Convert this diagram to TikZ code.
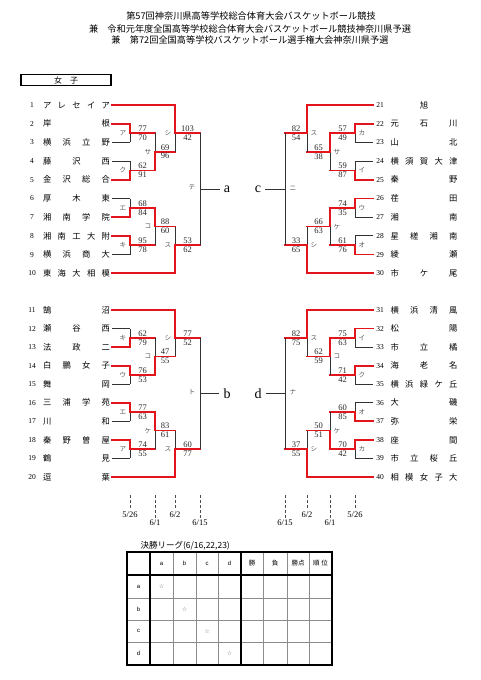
\documentclass[tikz,border=0pt]{standalone}
\usepackage{fontspec}
\setmainfont{Liberation Serif}
\setsansfont{Liberation Sans}
\newfontfamily\jp{Noto Sans CJK JP}
\newfontfamily\sym{DejaVu Sans}

\definecolor{wred}{RGB}{228,20,28}

% spread the characters of a school name over the whole field
\def\spread#1{\expandafter\spreadA#1\relax}
\def\spreadA#1{#1\spreadB}
\def\spreadB#1{\ifx\relax#1\else\hfill#1\expandafter\spreadB\fi}

\begin{document}
\begin{tikzpicture}[x=1pt, y=-1pt,
	win/.style={draw=wred, line width=1.7pt, line cap=rect},
	lose/.style={draw=black!80, line width=0.9pt},
	num/.style={font=\fontsize{7.5}{8}\selectfont, inner sep=0pt},
	team/.style={font=\jp\fontsize{8.3}{8}\selectfont, inner sep=0pt},
	score/.style={font=\fontsize{8.5}{8}\selectfont, inner sep=1.4pt, text=black!85},
	mlab/.style={font=\jp\fontsize{6.6}{6}\selectfont, text=black!65, inner sep=0pt},
	blk/.style={font=\fontsize{14}{14}\selectfont, inner xsep=4pt, inner ysep=0pt},
	datel/.style={draw=black!70, line width=0.6pt, densely dashed},
	date/.style={font=\fontsize{8.5}{9}\selectfont, inner sep=1.5pt},
	tthin/.style={draw=black!45, line width=0.5pt},
	tthick/.style={draw=black, line width=1.1pt},
	thd/.style={font=\sffamily\fontsize{6}{6}\selectfont},
	tjp/.style={font=\jp\fontsize{6.5}{7}\selectfont},
	star/.style={font=\sym\fontsize{6}{6}\selectfont, text=black!55}]

	\fill[white] (0,0) rectangle (481,680);
	\useasboundingbox (0,0) rectangle (481,680);

	% Title lines

	\begin{scope}[every node/.style={font=\jp\fontsize{9.2}{10}\selectfont}]
		\node (h1) at (251,16) {第57回神奈川県高等学校総合体育大会バスケットボール競技};
		\node (h2) at (250,29) {兼　令和元年度全国高等学校総合体育大会バスケットボール競技神奈川県予選};
		\node (h3) at (250,40) {兼　第72回全国高等学校バスケットボール選手権大会神奈川県予選};
	\end{scope}

	\node [draw, line width=1.3pt, minimum width=90pt, minimum height=10.5pt, inner sep=0pt,
		font=\jp\fontsize{8}{8}\selectfont] (girls) at (66,80) {女　子};

	% Schools, left side

	\foreach \i/\nm/\xe/\s in {1/アレセイア/175/win, 2/岸根/130/win, 3/横浜立野/130/lose,
		4/藤沢西/130/lose, 5/金沢総合/130/win, 6/厚木東/130/lose, 7/湘南学院/130/win,
		8/湘南工大附/130/win, 9/横浜商大/130/lose, 10/東海大相模/175/win,
		11/鵠沼/175/win, 12/瀬谷西/130/lose, 13/法政二/130/win, 14/白鵬女子/130/win,
		15/舞岡/130/lose, 16/三浦学苑/130/win, 17/川和/130/lose, 18/秦野曽屋/130/win,
		19/鶴見/130/lose, 20/逗葉/175/win}
		{
		\pgfmathsetmacro\ty{\i<11 ? 105+(\i-1)*18.7 : 310+(\i-11)*18.55}
		\node [num] (n\i) at (32,\ty) {\i};
		\node [team] (t\i) at (76.5,\ty) {\makebox[67pt]{\spread{\nm}}};
		\draw [\s] ([xshift=2pt]t\i.east) -- (\xe,\ty);
		}

	% Schools, right side

	\foreach \i/\nm/\xe/\s in {21/旭/307/win, 22/元石川/355/win, 23/山北/355/lose,
		24/横須賀大津/355/lose, 25/秦野/355/win, 26/荏田/355/win, 27/湘南/355/lose,
		28/星槎湘南/355/lose, 29/綾瀬/355/win, 30/市ケ尾/307/win,
		31/横浜清風/307/win, 32/松陽/355/win, 33/市立橘/355/lose, 34/海老名/355/win,
		35/横浜緑ケ丘/355/lose, 36/大磯/355/lose, 37/弥栄/355/win, 38/座間/355/win,
		39/市立桜丘/355/lose, 40/相模女子大/307/win}
		{
		\pgfmathsetmacro\ty{\i<31 ? 105+(\i-21)*18.7 : 310+(\i-31)*18.55}
		\node [num] (n\i) at (380,\ty) {\i};
		\node [team] (t\i) at (424,\ty) {\makebox[67pt]{\spread{\nm}}};
		\draw [\s] ([xshift=-3pt]n\i.west) -- (\xe,\ty);
		}

	% Games: vertical at xv, result line to xo

	\foreach \xv/\xo/\yt/\yj/\yb/\wt/\wb/\lab/\st/\sb [count=\k] in {
		130/155/123.7/133.05/142.4/win/lose/ア/77/70,
		130/155/161.1/170.45/179.8/lose/win/ク/62/91,
		130/155/198.5/207.85/217.2/lose/win/エ/68/84,
		130/155/235.9/245.25/254.6/win/lose/キ/95/78,
		155/175/133.05/151.75/170.45/lose/win/サ/69/96,
		155/175/207.85/226.55/245.25/win/lose/コ/88/60,
		175/200/105/133.05/151.75/win/lose/シ/103/42,
		175/200/226.55/245.25/273.3/lose/win/ス/53/62,
		130/155/328.6/337.85/347.1/lose/win/キ/62/79,
		130/155/365.7/374.95/384.2/win/lose/ウ/76/53,
		130/155/402.8/412.05/421.3/win/lose/エ/77/63,
		130/155/439.9/449.15/458.4/win/lose/ア/74/55,
		155/175/337.85/356.4/374.95/lose/win/コ/47/55,
		155/175/412.05/430.6/449.15/win/lose/ケ/83/61,
		175/200/310/337.85/356.4/win/lose/シ/77/52,
		175/200/430.6/449.15/477/lose/win/ス/60/77,
		355/330/123.7/133.05/142.4/win/lose/カ/57/49,
		355/330/161.1/170.45/179.8/lose/win/イ/59/87,
		355/330/198.5/207.85/217.2/win/lose/ウ/74/35,
		355/330/235.9/245.25/254.6/lose/win/オ/61/76,
		330/307/133.05/151.75/170.45/win/lose/サ/65/38,
		330/307/207.85/226.55/245.25/win/lose/ケ/66/63,
		307/285/105/133.05/151.75/win/lose/ス/82/54,
		307/285/226.55/245.25/273.3/lose/win/シ/33/65,
		355/330/328.6/337.85/347.1/win/lose/イ/75/63,
		355/330/365.7/374.95/384.2/win/lose/ク/71/42,
		355/330/402.8/412.05/421.3/lose/win/オ/60/85,
		355/330/439.9/449.15/458.4/win/lose/カ/70/42,
		330/307/337.85/356.4/374.95/win/lose/コ/62/59,
		330/307/412.05/430.6/449.15/lose/win/ケ/50/51,
		307/285/310/337.85/356.4/win/lose/ス/82/75,
		307/285/430.6/449.15/477/lose/win/シ/37/55}
		{
		\draw [\wt] (\xv,\yt) -- (\xv,\yj);
		\draw [\wb] (\xv,\yj) -- (\xv,\yb);
		\draw [win] (\xv,\yj) -- (\xo,\yj);
		\pgfmathsetmacro\xs{(\xv+\xo)/2}
		\pgfmathsetmacro\xl{\xv+7*sign(\xv-\xo)}
		\node [score, above] (sa\k) at (\xs,\yj) {\st};
		\node [score, below] (sb\k) at (\xs,\yj) {\sb};
		\node [mlab] (m\k) at (\xl,\yj) {\lab};
		}

	% Block winners a - d

	\node [blk] (ka) at (227,189.15) {a};
	\node [blk] (kb) at (227,393.5) {b};
	\node [blk] (kc) at (258,189.15) {c};
	\node [blk] (kd) at (258,393.5) {d};

	\draw [lose] (200,133.05) -- (200,245.25);
	\draw [lose] (200,189.15) -- (ka.west);
	\draw [lose] (200,337.85) -- (200,449.15);
	\draw [lose] (200,393.5) -- (kb.west);
	\draw [lose] (285,133.05) -- (285,245.25);
	\draw [lose] (285,189.15) -- (kc.east);
	\draw [lose] (285,337.85) -- (285,449.15);
	\draw [lose] (285,393.5) -- (kd.east);

	\node [mlab] (mte) at (192,187) {テ};
	\node [mlab] (mto) at (192,392) {ト};
	\node [mlab] (mni) at (293,188) {ニ};
	\node [mlab] (mna) at (293,392) {ナ};

	% Dates of the rounds

	\foreach \x/\yl/\d in {130/510/{5/26}, 155/518/{6/1}, 175/510/{6/2}, 200/518/{6/15},
		285/518/{6/15}, 307/510/{6/2}, 330/518/{6/1}, 355/510/{5/26}}
		\draw [datel] (\x,495) -- (\x,\yl) node [date, below] (dt\x) {\d};

	% Final league table

	\node [anchor=west, font=\jp\fontsize{8.5}{9}\selectfont] (lg) at (137,546) {決勝リーグ(6/16,22,23)};

	\foreach \x in {173,196,218,263,287,309}
		\draw [tthin] (\x,552) -- (\x,665);
	\foreach \y in {598,620,642}
		\draw [tthin] (127,\y) -- (332,\y);
	\draw [tthick] (127,552) rectangle (332,665);
	\draw [tthick] (150,552) -- (150,665);
	\draw [tthick] (241,552) -- (241,665);
	\draw [tthick] (127,575) -- (332,575);

	\foreach \t/\x/\y [count=\k] in {a/161.5/586.5, b/184.5/609, c/207/631, d/229.5/653.5}
		{
		\node [thd] (ch\k) at (\x,563.5) {\t};
		\node [thd] (rh\k) at (138.5,\y) {\t};
		\node [star] (st\k) at (\x,\y) {☆};
		}
	\node [tjp] (cw) at (252,563.5) {勝};
	\node [tjp] (cl) at (275,563.5) {負};
	\node [tjp] (cp) at (298,563.5) {勝点};
	\node [tjp] (cr) at (320.5,563.5) {順\hspace{2pt}位};

\end{tikzpicture}
\end{document}
